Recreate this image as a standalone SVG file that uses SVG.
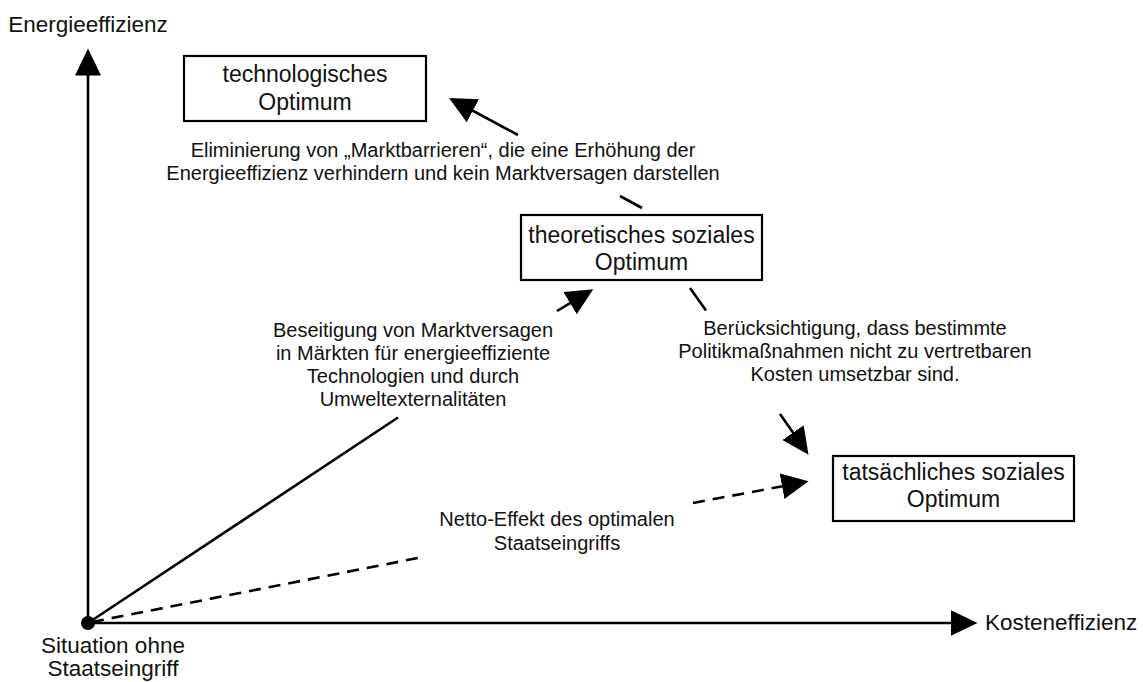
<svg xmlns="http://www.w3.org/2000/svg" width="1143" height="682" viewBox="0 0 1143 682">
  <style>
    text { font-family: "Liberation Sans", Arial, sans-serif; font-size: 20px; fill: #111; }
    .c { text-anchor: middle; }
    .big { font-size: 23px; }
    .ax { font-size: 22.5px; }
    .box { fill: #fff; stroke: #000; stroke-width: 2.2; }
    .ln { stroke: #000; stroke-width: 2.6; fill: none; }
    .dash { stroke-dasharray: 12 8; }
  </style>
  <defs>
    <marker id="ah" markerUnits="userSpaceOnUse" markerWidth="28" markerHeight="28" refX="0.5" refY="13" orient="auto" viewBox="0 0 28 26">
      <path d="M0,0 L27,13 L0,26 Z" fill="#000"/>
    </marker>
  </defs>

  <g id="connectors">
    <line id="y-axis" class="ln" x1="88" y1="623" x2="88" y2="75" marker-end="url(#ah)"/>
    <line id="x-axis" class="ln" x1="88" y1="623" x2="951" y2="623" marker-end="url(#ah)"/>
    <line class="ln" x1="642" y1="208" x2="620" y2="196"/>
    <line class="ln" x1="518" y1="135" x2="472.4" y2="110.5" marker-end="url(#ah)"/>
    <line class="ln" x1="88" y1="623" x2="398" y2="417.5"/>
    <line class="ln" x1="557" y1="311" x2="570.5" y2="302.9" marker-end="url(#ah)"/>
    <line class="ln" x1="690" y1="288" x2="706" y2="310.5"/>
    <line class="ln" x1="780" y1="414" x2="793.3" y2="433" marker-end="url(#ah)"/>
    <line class="ln dash" x1="92" y1="622" x2="425" y2="556.6"/>
    <line class="ln dash" x1="693" y1="503" x2="782.5" y2="486.2" marker-end="url(#ah)"/>
  </g>

  <g id="origin">
    <circle cx="88" cy="623" r="7" fill="#000"/>
    <text class="c ax" x="113" y="653">Situation ohne</text>
    <text class="c ax" x="113" y="676">Staatseingriff</text>
  </g>

  <g id="axis-labels">
    <text class="c ax" x="88" y="32">Energieeffizienz</text>
    <text class="ax" x="985" y="630">Kosteneffizienz</text>
  </g>

  <g id="technologisches-optimum">
    <rect class="box" x="184" y="56" width="242" height="65"/>
    <text class="c big" x="305" y="82">technologisches</text>
    <text class="c big" x="305" y="110">Optimum</text>
  </g>

  <g id="theoretisches-optimum">
    <rect class="box" x="521" y="215" width="241" height="65"/>
    <text class="c big" x="641.5" y="243">theoretisches soziales</text>
    <text class="c big" x="641.5" y="270">Optimum</text>
  </g>

  <g id="tatsaechliches-optimum">
    <rect class="box" x="833" y="456" width="241" height="65"/>
    <text class="c big" x="953.5" y="480">tatsächliches soziales</text>
    <text class="c big" x="953.5" y="507">Optimum</text>
  </g>

  <g id="labels">
    <text class="c" x="443" y="157">Eliminierung von „Marktbarrieren“, die eine Erhöhung der</text>
    <text class="c" x="443" y="180">Energieeffizienz verhindern und kein Marktversagen darstellen</text>
    <text class="c" x="413" y="337">Beseitigung von Marktversagen</text>
    <text class="c" x="413" y="360">in Märkten für energieeffiziente</text>
    <text class="c" x="413" y="383">Technologien und durch</text>
    <text class="c" x="413" y="406">Umweltexternalitäten</text>
    <text class="c" x="855" y="335">Berücksichtigung, dass bestimmte</text>
    <text class="c" x="855" y="358">Politikmaßnahmen nicht zu vertretbaren</text>
    <text class="c" x="855" y="381">Kosten umsetzbar sind.</text>
    <text class="c" x="557" y="526">Netto-Effekt des optimalen</text>
    <text class="c" x="557" y="550">Staatseingriffs</text>
  </g>
</svg>
